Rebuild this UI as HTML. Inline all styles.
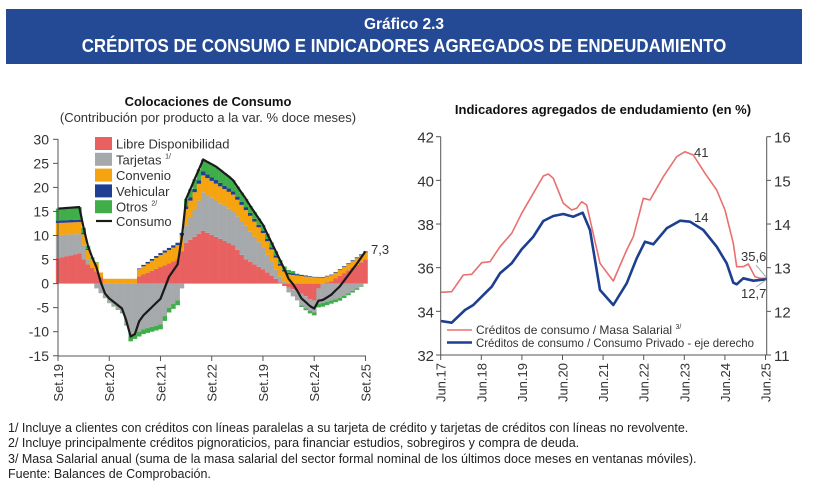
<!DOCTYPE html>
<html><head><meta charset="utf-8"><style>
body{margin:0;background:#fff;width:814px;height:495px;overflow:hidden;position:relative;font-family:"Liberation Sans",sans-serif;}
.ban{position:absolute;left:6px;top:9px;width:796px;height:55px;background:#244a96;color:#fff;font-family:"Liberation Sans",sans-serif;font-weight:bold;}
.ban div{position:absolute;left:398px;white-space:nowrap;transform-origin:0 0;}
.fn{position:absolute;left:8px;font-family:"Liberation Sans",sans-serif;font-size:12.5px;color:#222;white-space:nowrap;}
</style></head><body>
<div class="ban"><div style="font-size:15.5px;top:7px;transform:translateX(-50%)">Gráfico 2.3</div><div style="font-size:18px;top:27px;transform:scaleX(0.94) translateX(-50%)">CRÉDITOS DE CONSUMO E INDICADORES AGREGADOS DE ENDEUDAMIENTO</div></div>
<svg id="s" width="814" height="495" style="position:absolute;left:0;top:0" font-family="Liberation Sans, sans-serif"></svg>
<div class="fn" style="top:421px">1/ Incluye a clientes con créditos con líneas paralelas a su tarjeta de crédito y tarjetas de créditos con líneas no revolvente.</div>
<div class="fn" style="top:436px">2/ Incluye principalmente créditos pignoraticios, para financiar estudios, sobregiros y compra de deuda.</div>
<div class="fn" style="top:452px">3/ Masa Salarial anual (suma de la masa salarial del sector formal nominal de los últimos doce meses en ventanas móviles).</div>
<div class="fn" style="top:467px">Fuente: Balances de Comprobación.</div>
<script>
var S=document.getElementById('s'),h='';
function interp(k,m){for(var i=0;i<k.length-1;i++){if(m<=k[i+1][0]){var t=(m-k[i][0])/(k[i+1][0]-k[i][0]);return k[i][1]+t*(k[i+1][1]-k[i][1]);}}return k[k.length-1][1];}
var X0=58,DX=4.27,Y0=283.6,SY=4.81;
var red=[[0,5.3],[5,6.3],[6,5],[7,4],[9,2.5],[10.6,0.6],[11,0],[18,0],[19,1.5],[28,5],[30,8.5],[34,11],[41,8],[44,5],[48,3],[51,1],[53,-0.5],[56,-1.5],[59,-3.2],[60,-3.5],[61,-1],[62,0],[64,0.5],[72,5]];
var gray=[[0,4.8],[5,4],[6,3],[7,1],[8,0],[9,-1],[12,-4],[15,-6],[17,-11],[18,-10.5],[20,-9.5],[24,-8.5],[26,-5],[28,-3.5],[29,-1],[29.5,0],[30,3.5],[34,8],[41,7],[44,7],[48,4.5],[51,2],[53,0.5],[54,-1],[57,-2.5],[60,-2.5],[62,-4],[66,-3],[70,-1],[72,0]];
var ora=[[0,2.5],[5,2.5],[7,2],[9,1.8],[10,1],[18,1],[19,1.5],[24,2.5],[28,3],[30,3.5],[34,3.5],[41,3.5],[48,3],[53,2],[60,1.3],[66,1.2],[72,1.5]];
var blu=[[0,0.5],[5,0.5],[7,0.2],[8,0],[18,0],[20,0.3],[28,0.5],[30,0.6],[34,0.8],[45,0.6],[55,0.3],[60,0.1],[72,0.2]];
var grn=[[0,2.5],[5,2.6],[6,1],[8,0.3],[10,0],[16,-0.2],[17,-1],[28,-1],[29,0],[30,1.5],[34,2.5],[37,2.8],[40,2.5],[45,1.5],[52,0.8],[55,0.5],[57,-0.3],[60,-0.6],[62,-0.8],[70,-0.3],[72,0]];
var ser=[[red,'#e8605f'],[gray,'#a6a9ab'],[ora,'#f5a40f'],[blu,'#1f3f94'],[grn,'#3fae49']];
function yv(v){return Y0-v*SY;}
var line=[];
for(var m=0;m<=72;m++){var pos=0,neg=0,x=X0+m*DX-2.14,tot=0;
 ser.forEach(function(s){var v=interp(s[0],m);tot+=v;if(Math.abs(v)<0.01)return;var a,b;if(v>=0){a=pos;b=pos+v;pos=b;}else{a=neg;b=neg+v;neg=b;}
  var y1=yv(Math.max(a,b)),y2=yv(Math.min(a,b));h+='<rect x="'+x.toFixed(2)+'" y="'+y1.toFixed(2)+'" width="4.5" height="'+(y2-y1).toFixed(2)+'" fill="'+s[1]+'"/>';});
 line.push((X0+m*DX).toFixed(1)+','+yv(tot).toFixed(1));}
h+='<polyline points="'+line.join(' ')+'" fill="none" stroke="#1a1a1a" stroke-width="2.2" stroke-linejoin="round"/>';
h+='<line x1="58" y1="139" x2="58" y2="356" stroke="#555"/><line x1="58" y1="356" x2="366" y2="356" stroke="#555"/>';
for(var v=-15;v<=30;v+=5){var y=yv(v);h+='<line x1="53" x2="58" y1="'+y+'" y2="'+y+'" stroke="#555"/><text x="49" y="'+(y+5)+'" text-anchor="end" font-size="14" fill="#333">'+v+'</text>';}
['Set.19','Set.20','Set.21','Set.22','Set.19','Set.24','Set.25'].forEach(function(t,i){var x=X0+i*12*DX;h+='<line x1="'+x+'" x2="'+x+'" y1="356" y2="361" stroke="#555"/><text transform="translate('+(x+5)+',364) rotate(-90)" text-anchor="end" font-size="13" fill="#333">'+t+'</text>';});
h+='<text x="371" y="254" font-size="13" fill="#333">7,3</text>';
h+='<text x="208" y="106" text-anchor="middle" font-size="13" font-weight="bold" fill="#111">Colocaciones de Consumo</text>';
h+='<text x="208" y="122" text-anchor="middle" font-size="13" fill="#333">(Contribución por producto a la var. % doce meses)</text>';
var lg=[['Libre Disponibilidad','#e8605f'],['Tarjetas','#a6a9ab'],['Convenio','#f5a40f'],['Vehicular','#1f3f94'],['Otros','#3fae49']];
lg.forEach(function(l,i){var y=137+i*15.8;h+='<rect x="95" y="'+y+'" width="17" height="13" fill="'+l[1]+'"/><text x="116" y="'+(y+11.5)+'" font-size="13" fill="#333">'+l[0]+(i==1?' <tspan font-size="7" dy="-6">1/</tspan>':i==4?' <tspan font-size="7" dy="-6">2/</tspan>':'')+'</text>';});
h+='<line x1="96" x2="112" y1="221" y2="221" stroke="#1a1a1a" stroke-width="2.2"/><text x="116" y="226" font-size="13" fill="#333">Consumo</text>';
function P(a){return a.map(function(p){return (400+p[0]/3).toFixed(1)+','+(90+p[1]/3).toFixed(1);}).join(' ');}
var r=[[122,607],[155,605],[190,555],[215,553],[245,518],[270,515],[300,470],[335,430],[365,370],[400,310],[430,258],[445,252],[460,265],[490,340],[515,360],[530,355],[545,335],[560,345],[600,520],[640,573],[680,480],[700,440],[730,325],[750,330],[790,260],[830,200],[855,185],[880,195],[915,250],[950,300],[975,360],[1000,460],[1010,530],[1030,530],[1045,522],[1065,560],[1080,565],[1100,565]];
var b=[[122,693],[155,698],[195,660],[220,645],[255,610],[275,590],[300,550],[335,520],[365,478],[400,440],[430,393],[460,378],[490,372],[520,380],[548,368],[570,420],[600,600],[640,645],[680,580],[710,505],[735,455],[760,463],[800,415],[840,392],[870,395],[910,420],[950,470],[980,520],[1000,578],[1010,583],[1030,565],[1060,572],[1100,568]];
h+='<polyline points="'+P(r)+'" fill="none" stroke="#e8706e" stroke-width="1.6" stroke-linejoin="round"/>';
h+='<polyline points="'+P(b)+'" fill="none" stroke="#1d3f8f" stroke-width="2.6" stroke-linejoin="round"/>';
h+='<line x1="440.7" y1="136.7" x2="440.7" y2="355" stroke="#555"/><line x1="766.7" y1="136.7" x2="766.7" y2="355" stroke="#555"/><line x1="440.7" y1="355" x2="766.7" y2="355" stroke="#555"/>';
for(var i=0;i<=5;i++){var y=136.7+i*43.66;h+='<line x1="436" x2="440.7" y1="'+y+'" y2="'+y+'" stroke="#555"/><text x="434" y="'+(y+6)+'" text-anchor="end" font-size="15" fill="#333">'+(42-2*i)+'</text><line x1="766.7" x2="771" y1="'+y+'" y2="'+y+'" stroke="#555"/><text x="774" y="'+(y+6)+'" font-size="15" fill="#333">'+(16-i)+'</text>';}
for(var i=0;i<=8;i++){var x=440.7+i*40.6;h+='<line x1="'+x+'" x2="'+x+'" y1="355" y2="360" stroke="#555"/><text transform="translate('+(x+5)+',363) rotate(-90)" text-anchor="end" font-size="13" fill="#333">Jun.'+(17+i)+'</text>';}
h+='<text x="694" y="157" font-size="13" fill="#333">41</text><text x="694" y="222" font-size="13" fill="#333">14</text>';
h+='<text x="741" y="261" font-size="13" fill="#333">35,6</text><text x="741" y="298" font-size="13" fill="#333">12,7</text>';
h+='<line x1="756" y1="265" x2="766" y2="277" stroke="#aaa"/><line x1="756" y1="287" x2="766" y2="280" stroke="#aaa"/>';
h+='<text x="603" y="114" text-anchor="middle" font-size="13" font-weight="bold" fill="#111">Indicadores agregados de endudamiento (en %)</text>';
h+='<line x1="447" x2="472" y1="330" y2="330" stroke="#e8706e" stroke-width="1.6"/><text x="476" y="334" font-size="12" fill="#333">Créditos de consumo / Masa Salarial <tspan font-size="7" dy="-5">3/</tspan></text>';
h+='<line x1="447" x2="472" y1="342.5" y2="342.5" stroke="#1d3f8f" stroke-width="2.6"/><text x="476" y="347" font-size="12" fill="#333" textLength="278" lengthAdjust="spacingAndGlyphs">Créditos de consumo / Consumo Privado - eje derecho</text>';
S.innerHTML=h;
</script>
</body></html>
